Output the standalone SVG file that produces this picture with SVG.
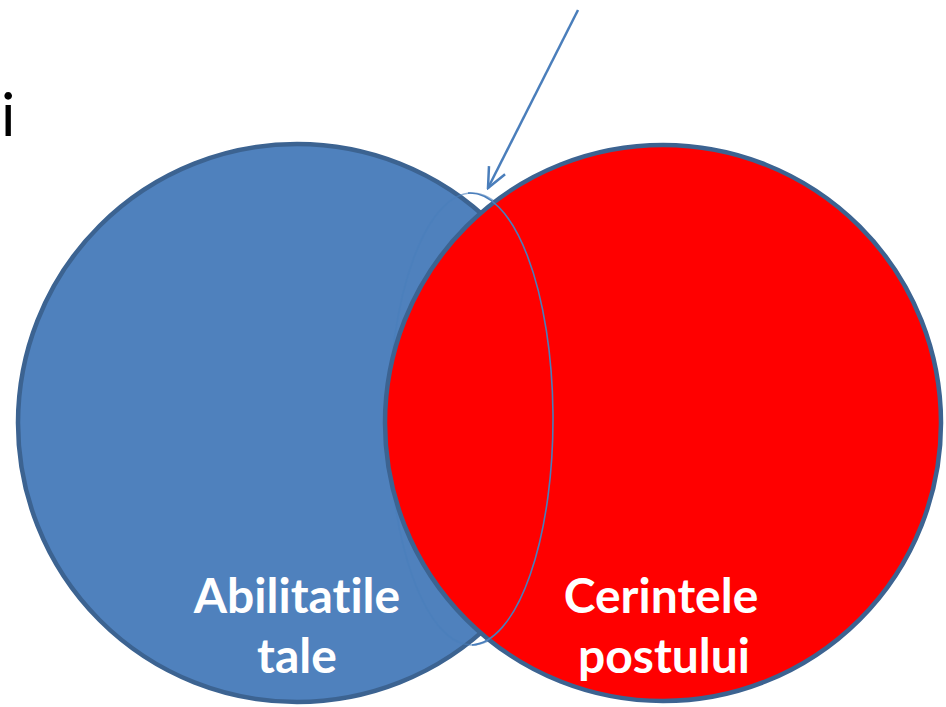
<svg xmlns="http://www.w3.org/2000/svg" width="946" height="707" viewBox="0 0 946 707">
<defs>
<style>
.circ{stroke:#3c6391;stroke-width:4.5}
.lbl{font-family:Lato,"Open Sans","Liberation Sans",sans-serif;font-weight:bold;font-size:48px;fill:#ffffff;text-anchor:middle;font-variant-ligatures:none;font-feature-settings:"liga" 0}
.thin{fill:none;stroke:#4a7ebb;stroke-width:1.6}
</style>
<marker id="arr" viewBox="0 0 24 24" refX="22" refY="12" markerWidth="24" markerHeight="24" markerUnits="userSpaceOnUse" orient="auto">
<path d="M2,3 L22,12 L2,21" fill="none" stroke="#4a7ebb" stroke-width="2.5"/>
</marker>
</defs>
<rect width="946" height="707" fill="#ffffff"/>
<text x="1" y="136" font-family="Lato,'Liberation Sans',sans-serif" font-size="60" fill="#000000">i</text>
<g id="node-abilitatile">
<circle class="circ" cx="297" cy="423" r="279" fill="#4f81bd"/>
</g>
<ellipse class="thin" cx="472" cy="419" rx="83" ry="226" opacity="0.6"/>
<g id="node-cerintele">
<circle class="circ" cx="663" cy="423" r="278" fill="#ff0000"/>
</g>
<g id="connectors">
<path class="thin" d="M468,193.1 A83,226 0 0 1 472,645"/>
<line x1="578" y1="10" x2="488" y2="188" stroke="#4a7ebb" stroke-width="2.5" marker-end="url(#arr)"/>
</g>
<g id="labels">
<text class="lbl" x="297" y="613">Abilitatile</text>
<text class="lbl" x="297" y="673">tale</text>
<text class="lbl" x="661" y="613">Cerintele</text>
<text class="lbl" x="664" y="673">postului</text>
</g>
</svg>
